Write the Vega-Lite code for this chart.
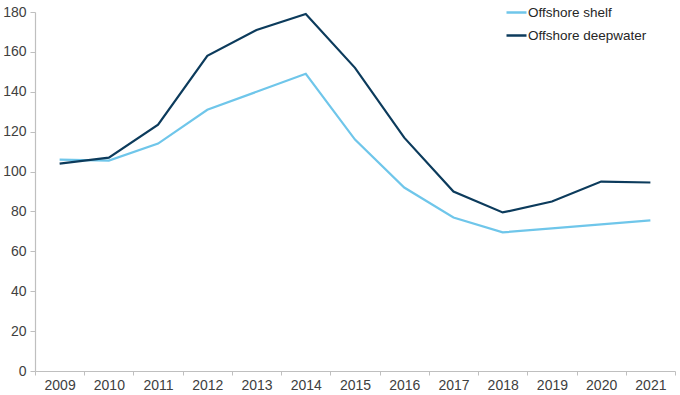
{
  "$schema": "https://vega.github.io/schema/vega-lite/v6.json",
  "width": 640,
  "height": 359,
  "autosize": {"type": "none"},
  "padding": {"left": 35, "top": 12, "right": 5, "bottom": 24},
  "background": "white",
  "config": {
    "view": {"stroke": null},
    "font": "Liberation Sans"
  },
  "data": {
    "values": [
      {"year": "2009", "series": "Offshore shelf", "value": 106},
      {"year": "2010", "series": "Offshore shelf", "value": 105.5},
      {"year": "2011", "series": "Offshore shelf", "value": 114},
      {"year": "2012", "series": "Offshore shelf", "value": 131},
      {"year": "2013", "series": "Offshore shelf", "value": 140},
      {"year": "2014", "series": "Offshore shelf", "value": 149},
      {"year": "2015", "series": "Offshore shelf", "value": 116},
      {"year": "2016", "series": "Offshore shelf", "value": 92},
      {"year": "2017", "series": "Offshore shelf", "value": 77},
      {"year": "2018", "series": "Offshore shelf", "value": 69.5},
      {"year": "2019", "series": "Offshore shelf", "value": 71.5},
      {"year": "2020", "series": "Offshore shelf", "value": 73.5},
      {"year": "2021", "series": "Offshore shelf", "value": 75.5},
      {"year": "2009", "series": "Offshore deepwater", "value": 104},
      {"year": "2010", "series": "Offshore deepwater", "value": 107},
      {"year": "2011", "series": "Offshore deepwater", "value": 123.5},
      {"year": "2012", "series": "Offshore deepwater", "value": 158},
      {"year": "2013", "series": "Offshore deepwater", "value": 171},
      {"year": "2014", "series": "Offshore deepwater", "value": 179},
      {"year": "2015", "series": "Offshore deepwater", "value": 152},
      {"year": "2016", "series": "Offshore deepwater", "value": 117},
      {"year": "2017", "series": "Offshore deepwater", "value": 90},
      {"year": "2018", "series": "Offshore deepwater", "value": 79.5},
      {"year": "2019", "series": "Offshore deepwater", "value": 85},
      {"year": "2020", "series": "Offshore deepwater", "value": 95},
      {"year": "2021", "series": "Offshore deepwater", "value": 94.5}
    ]
  },
  "mark": {"type": "line", "strokeWidth": 2.2},
  "encoding": {
    "x": {
      "field": "year", "type": "ordinal",
      "scale": {"type": "band", "paddingInner": 0, "paddingOuter": 0},
      "axis": {
        "title": null, "labelAngle": 0, "labelFontSize": 14, "labelColor": "#404040",
        "domainColor": "#bfbfbf", "domainWidth": 1.2, "tickColor": "#bfbfbf", "tickSize": 4,
        "tickBand": "extent", "labelPadding": 3, "grid": false
      }
    },
    "y": {
      "field": "value", "type": "quantitative",
      "scale": {"domain": [0, 180], "nice": false},
      "axis": {
        "title": null, "values": [0,20,40,60,80,100,120,140,160,180],
        "labelFontSize": 14, "labelColor": "#404040", "grid": false,
        "domainColor": "#bfbfbf", "domainWidth": 1.2, "tickColor": "#bfbfbf", "tickSize": 5, "labelPadding": 4
      }
    },
    "color": {
      "field": "series", "type": "nominal",
      "scale": {"domain": ["Offshore shelf", "Offshore deepwater"], "range": ["#6fc6ea", "#0c3b5c"]},
      "legend": {
        "title": null, "orient": "none", "legendX": 470, "legendY": -11,
        "symbolType": "stroke", "symbolSize": 400, "symbolStrokeWidth": 2.5,
        "labelFontSize": 13.5, "labelColor": "#262626", "labelOffset": 0, "rowPadding": 5
      }
    }
  }
}
